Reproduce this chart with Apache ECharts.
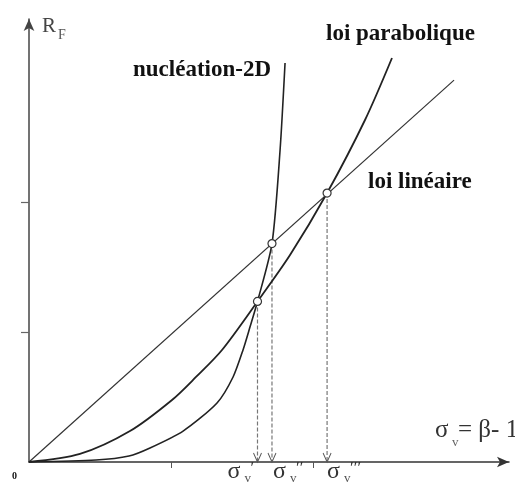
<!DOCTYPE html>
<html>
<head>
<meta charset="utf-8">
<script src="https://cdn.jsdelivr.net/npm/echarts@6/dist/echarts.min.js"></script>
<style>
  html, body { margin: 0; padding: 0; background: #fff; }
  #main { width: 515px; height: 484px; }
</style>
</head>
<body>
<div id="main"></div>
<script>
// ---- data (x: sigma_v, y: R_F, arbitrary units) ----
const xTicks = [1, 2];
const yTicks = [1, 2];
const linearLaw = [[0, 0], [2.993, 2.938]];
const parabolicLaw = [[0, 0], [0.359, 0.062], [0.711, 0.238], [1.007, 0.477], [1.176, 0.654],
  [1.359, 0.862], [1.609, 1.235], [1.838, 1.592], [2.099, 2.069], [2.366, 2.631], [2.556, 3.108]];
const nucleation2D = [[0, 0], [0.472, 0.015], [0.704, 0.046], [0.852, 0.108], [1.085, 0.238],
  [1.324, 0.454], [1.437, 0.654], [1.507, 0.862], [1.556, 1.038], [1.609, 1.235],
  [1.711, 1.680], [1.768, 2.400], [1.803, 3.069]];
const intersections = [[1.609, 1.235], [1.711, 1.680], [2.099, 2.069]];
const intersectionPrimes = ["′", "′′", "′′′"];

const SERIF = '"Liberation Serif", "DejaVu Serif", serif';
const chart = echarts.init(document.getElementById('main'));

const dashedSeries = intersections.map(p => ({
  type: 'line',
  data: [[p[0], p[1]], [p[0], 0]],
  symbol: 'none',
  lineStyle: { color: '#777', width: 1.2, type: [4, 2] },
  z: 2
}));

chart.setOption({
  animation: false,
  backgroundColor: '#fff',
  grid: { left: 29, right: 6, top: 19, bottom: 22 },
  xAxis: {
    type: 'value', min: 0, max: 3.38,
    axisLine: { show: true, onZero: false, symbol: ['none', 'arrow'], symbolSize: [8, 12],
      lineStyle: { color: '#333', width: 1.5 } },
    axisTick: { show: true, customValues: xTicks, length: 6, lineStyle: { color: '#555', width: 1 } },
    axisLabel: { show: false },
    splitLine: { show: false }
  },
  yAxis: {
    type: 'value', min: 0, max: 3.408,
    axisLine: { show: true, onZero: false, symbol: ['none', 'arrow'], symbolSize: [8, 12],
      lineStyle: { color: '#444', width: 1.5 } },
    axisTick: { show: true, customValues: yTicks, length: 8, lineStyle: { color: '#666', width: 1.2 } },
    axisLabel: { show: false },
    splitLine: { show: false }
  },
  series: [
    { type: 'line', data: linearLaw, symbol: 'none',
      lineStyle: { color: '#333', width: 1.2 }, z: 3 },
    { type: 'line', data: parabolicLaw, symbol: 'none', smooth: 0.3,
      lineStyle: { color: '#222', width: 1.8 }, z: 3 },
    { type: 'line', data: nucleation2D, symbol: 'none', smooth: 0.25,
      lineStyle: { color: '#222', width: 1.6 }, z: 3 },
    ...dashedSeries,
    { type: 'scatter', data: intersections, symbol: 'circle', symbolSize: 8,
      itemStyle: { color: '#fff', borderColor: '#333', borderWidth: 1.2, opacity: 1 }, z: 5 },
    { type: 'scatter', data: intersections.map(p => [p[0], 0]),
      symbol: 'path://M0,0L5,10L10,0', symbolSize: [8, 9], symbolOffset: [0, -4.5],
      itemStyle: { color: 'none', borderColor: '#555', borderWidth: 1, opacity: 1 }, z: 5 }
  ]
});

// ---- text annotations ----
const graphics = [];
function txt(x, y, text, font, fill) {
  graphics.push({ type: 'text', x: x, y: y, z: 10,
    style: { text: text, font: font, fill: fill, textAlign: 'left', textVerticalAlign: 'top' } });
}
// axis titles
txt(42, 16, 'R', '21px ' + SERIF, '#444');
txt(58, 28, 'F', '14px ' + SERIF, '#555');
txt(435, 418, 'σ', '25px ' + SERIF, '#333');
txt(452, 436, 'v', '13px ' + SERIF, '#666');
txt(458, 418, '= β- 1', '25px ' + SERIF, '#333');
txt(12, 471, '0', 'bold 10px ' + SERIF, '#111');
// curve names
txt(133, 59, 'nucléation-2D', 'bold 23px ' + SERIF, '#111');
txt(326, 23, 'loi parabolique', 'bold 23px ' + SERIF, '#111');
txt(368, 171, 'loi linéaire', 'bold 23px ' + SERIF, '#111');
// sigma labels below the intersections
const sigmaOffsets = [-30, 1, 0];
intersections.forEach((p, i) => {
  const px = chart.convertToPixel({ gridIndex: 0 }, [p[0], 0]);
  const sx = px[0] + sigmaOffsets[i];
  txt(sx, 460, 'σ', '24px ' + SERIF, '#333');
  txt(sx + 17, 472, 'v', '13px ' + SERIF, '#555');
  txt(sx + 23, 460, intersectionPrimes[i], '17px ' + SERIF, '#333');
});
chart.setOption({ graphic: { elements: graphics } });
</script>
</body>
</html>
